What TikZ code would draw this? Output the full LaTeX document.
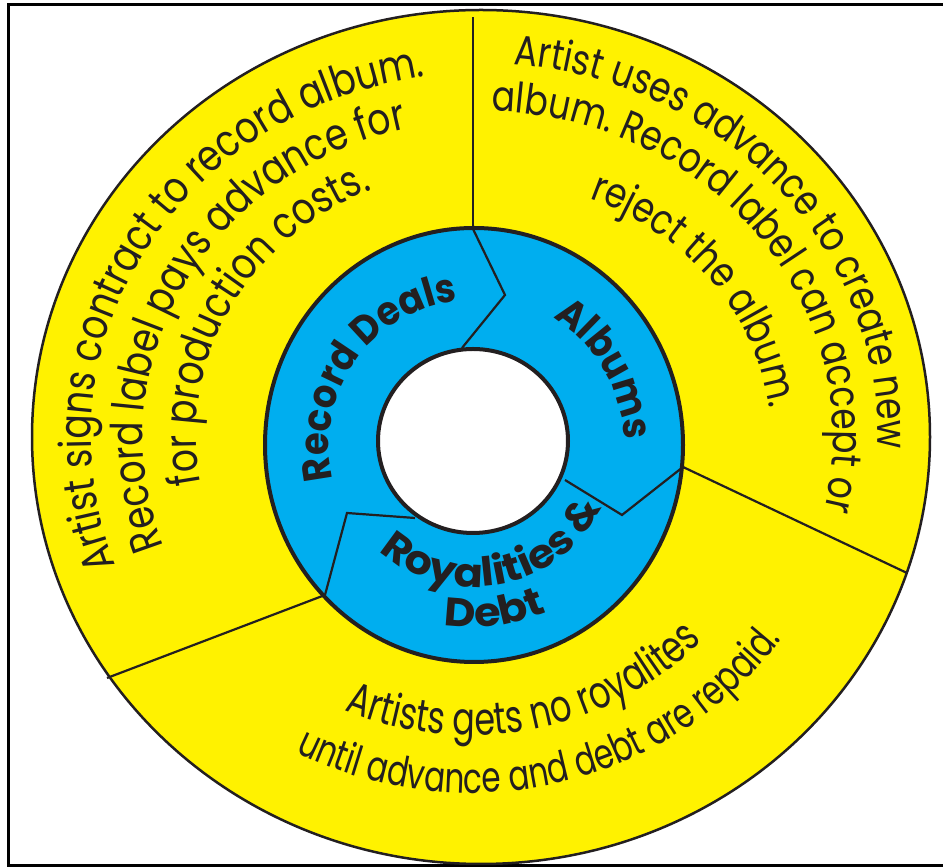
\documentclass[tikz,border=0pt]{standalone}
\usepackage{fontspec}
\setmainfont{Poppins}
\newfontfamily\yfont[FakeStretch=0.82]{Poppins}
\newfontfamily\nfont[FakeStretch=0.74]{Poppins}
\newfontfamily\bfont[FakeStretch=0.92]{Poppins}
\newfontfamily\cfont[FakeStretch=1.08]{Poppins}
\usetikzlibrary{decorations.text}
\definecolor{ringyellow}{HTML}{FFF200}
\definecolor{ringblue}{HTML}{00AEEF}
\definecolor{ink}{HTML}{231F20}
\newcommand{\ltext}{\yfont\fontsize{44}{48}\selectfont\color{ink}}
\newcommand{\rtext}{\yfont\fontsize{42}{46}\selectfont\color{ink}}
\newcommand{\dtext}{\nfont\fontsize{45}{48}\selectfont\color{ink}}
\newcommand{\etext}{\nfont\fontsize{42}{46}\selectfont\color{ink}}
\newcommand{\btext}{\bfont\bfseries\fontsize{40}{44}\selectfont\color{ink}}
\newcommand{\ctext}{\cfont\bfseries\fontsize{40}{44}\selectfont\color{ink}}
\tikzset{rim/.style={draw=ink,line width=2.5}}
\tikzset{cut/.style={draw=ink,line width=2.2}}
\tikzset{lbl/.style={decorate,decoration={text along path,text align=center,text={#1}}}}

\begin{document}
\begin{tikzpicture}[x=1pt,y=1pt]
  \useasboundingbox (0,0) rectangle (943,867);
  \draw[line width=3] (8,1) rectangle (950,862);
  % outer disc
  \filldraw[rim,fill=ringyellow] (481,430) ellipse [x radius=449, y radius=427];
  \coordinate (rdtop) at (473,638);
  \coordinate (alright) at (683,400);
  \coordinate (roleft) at (325,272);
  \coordinate (rimtop) at (473,850);
  \coordinate (rimright) at (907,294);
  \coordinate (rimleft) at (107,189);
  \draw[cut] (rdtop) -- (rimtop);
  \draw[cut] (alright) -- (rimright);
  \draw[cut] (roleft) -- (rimleft);
  % blue ring
  \filldraw[draw=ink,line width=4,fill=ringblue] (474,422) ellipse [x radius=209, y radius=217];
  \draw[cut] (rdtop) -- (505,572) -- (462,519);
  \draw[cut] (alright) -- (622,352) -- (565,387);
  \draw[cut] (roleft) -- (347,354) -- (415,349);
  \filldraw[draw=ink,line width=4,fill=white] (473,426) ellipse [x radius=95, y radius=92];
  % ring labels
  \begin{scope}[shift={(474,422)}]
    \path[lbl={|\btext|Record Deals}] (215:145) arc[start angle=215,end angle=75,radius=145];
    \path[lbl={|\btext|Albums}] (100:150) arc[start angle=100,end angle=-40,radius=150];
    \path[lbl={|\ctext|Royalities {\&}}] (211:142) arc[start angle=211,end angle=351,radius=142];
    \path[lbl={|\ctext|Debt}] (237:182) arc[start angle=237,end angle=317,radius=182];
  \end{scope}
  % yellow texts
  \begin{scope}[shift={(481,430)}]
    \path[lbl={|\ltext|Artist signs contract to record album.}] (225:390 and 364) arc[start angle=225,end angle=75,x radius=390,y radius=364];
    \path[lbl={|\ltext|Record label pays advance for}] (227:338 and 316) arc[start angle=227,end angle=77,x radius=338,y radius=316];
    \path[lbl={|\ltext|for production costs.}] (227:285 and 268) arc[start angle=227,end angle=77,x radius=285,y radius=268];
    \path[lbl={|\rtext|Artist uses advance to create new}] (116:397 and 374) arc[start angle=116,end angle=-34,x radius=397,y radius=374];
    \path[lbl={|\rtext|album. Record label can accept or}] (112:352 and 326) arc[start angle=112,end angle=-38,x radius=352,y radius=326];
    \path[lbl={|\rtext|reject the album.}] (110:290 and 257) arc[start angle=110,end angle=-40,x radius=290,y radius=257];
  \end{scope}
  \begin{scope}[shift={(470,467)}]
    \path[lbl={|\dtext|Artists gets no royalites}] (211:335) arc[start angle=211,end angle=351,radius=335];
    \path[lbl={|\etext|until advance and debt are repaid.}] (213:393) arc[start angle=213,end angle=353,radius=393];
  \end{scope}
\end{tikzpicture}
\end{document}
